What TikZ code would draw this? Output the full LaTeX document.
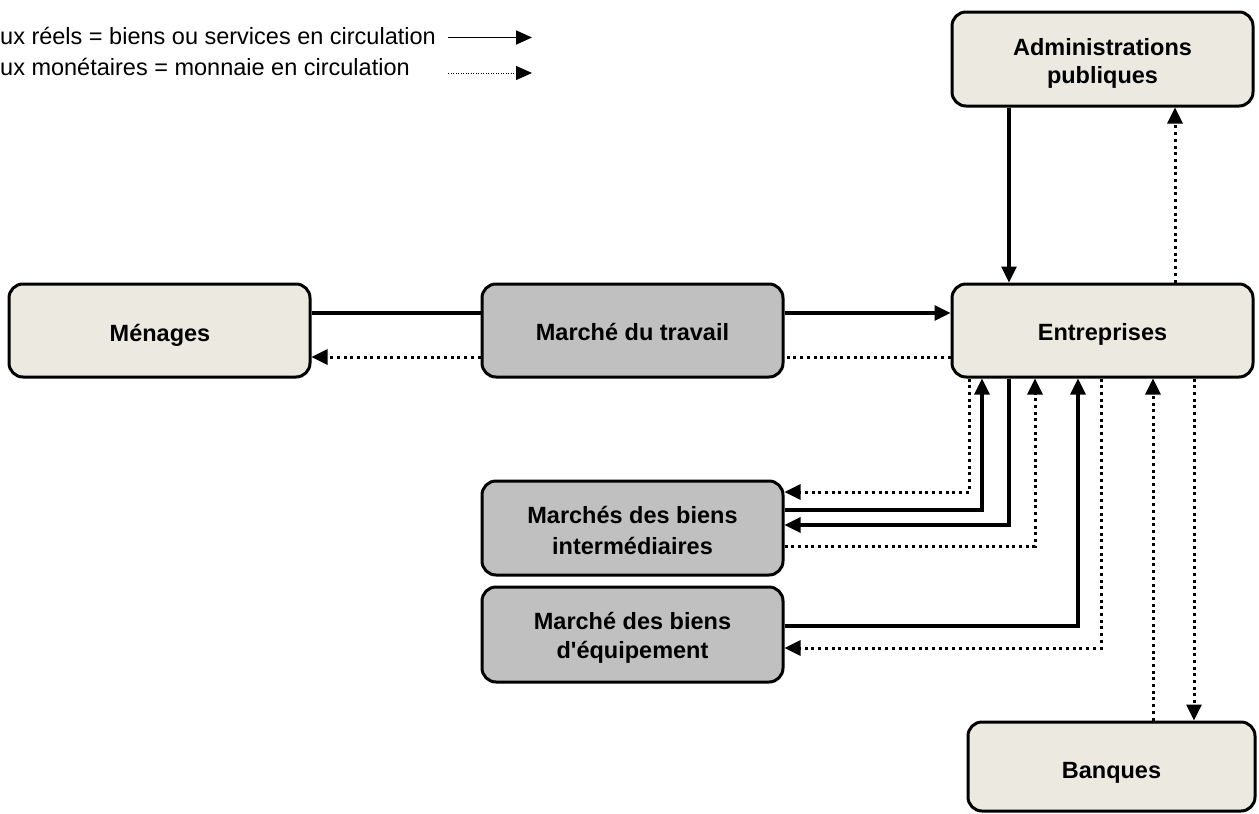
\documentclass[tikz,border=0pt]{standalone}
\usepackage{fontspec}
\setmainfont{Liberation Sans}
\usetikzlibrary{arrows.meta}
\definecolor{beige}{RGB}{236,234,224}
\definecolor{grisbox}{RGB}{192,192,192}
\begin{document}
\begin{tikzpicture}[x=1pt,y=-1pt,
 box/.style={draw=black, line width=3pt, rounded corners=14pt, inner sep=0pt},
 agent/.style={box, fill=beige},
 market/.style={box, fill=grisbox},
 boxtext/.style={inner sep=0pt, anchor=base, font=\fontsize{23.5}{29}\selectfont\bfseries},
 tipstyle/.style={-{Triangle[length=16pt,width=15pt]}},
 realline/.style={line width=3.2pt},
 real/.style={realline, tipstyle},
 moneyline/.style={line width=3pt, dash pattern=on 3pt off 3.7pt},
 money/.style={moneyline, tipstyle},
 legendtext/.style={font=\fontsize{23.5}{29}\selectfont, inner sep=0pt, anchor=base west}]
\useasboundingbox (0,0) rectangle (1259,814);

% boxes
\node[agent, minimum width=301pt, minimum height=94pt] (admin) at (1102.5,59) {};
\node[agent, minimum width=301pt, minimum height=93pt] (men) at (159.5,330.5) {};
\node[market, minimum width=301pt, minimum height=93pt] (trav) at (632.5,330.5) {};
\node[agent, minimum width=301pt, minimum height=93pt] (ent) at (1102.5,330.5) {};
\node[market, minimum width=301pt, minimum height=94pt] (interm) at (632.5,528) {};
\node[market, minimum width=301pt, minimum height=95pt] (equip) at (632.5,634.5) {};
\node[agent, minimum width=287pt, minimum height=89pt] (banq) at (1111.5,766.5) {};

% box texts
\node[boxtext] (adminT1) at (1102.5,55) {Administrations};
\node[boxtext] (adminT2) at (1102.5,83.3) {publiques};
\node[boxtext] (menT) at (160,341.7) {Ménages};
\node[boxtext] (travT) at (632.5,340.7) {Marché du travail};
\node[boxtext] (entT) at (1102.5,340.7) {Entreprises};
\node[boxtext] (intermT1) at (632.5,523) {Marchés des biens};
\node[boxtext] (intermT2) at (632.5,554.7) {intermédiaires};
\node[boxtext] (equipT1) at (632.5,629.7) {Marché des biens};
\node[boxtext] (equipT2) at (632.5,658) {d\textquotesingle équipement};
\node[boxtext] (banqT) at (1111.5,778) {Banques};

% helper coordinates
\coordinate (c969) at (969,0);
\coordinate (c982) at (982,0);
\coordinate (c1009) at (1009,0);
\coordinate (c1035) at (1035,0);
\coordinate (c1078) at (1078,0);
\coordinate (c1101) at (1101,0);
\coordinate (c1153) at (1153,0);
\coordinate (c1175) at (1175,0);
\coordinate (c1194) at (1194,0);
\coordinate (r313) at (0,313);
\coordinate (r357) at (0,357);
\coordinate (r492) at (0,492);
\coordinate (r510) at (0,510);
\coordinate (r525) at (0,525);
\coordinate (r546) at (0,546);
\coordinate (r626) at (0,626);
\coordinate (r648) at (0,648);

% administrations <-> entreprises
\draw[real] (admin.south -| c1009) -- (ent.north -| c1009);
\draw[money] (ent.north -| c1175) -- (admin.south -| c1175);

% menages <-> marche du travail <-> entreprises
\draw[realline] (men.east |- r313) -- (trav.west |- r313);
\draw[real] (trav.east |- r313) -- (ent.west |- r313);
\draw[moneyline] (ent.west |- r357) -- (trav.east |- r357);
\draw[money] (trav.west |- r357) -- (men.east |- r357);

% biens intermediaires
\draw[money] (ent.south -| c969) |- (interm.east |- r492);
\draw[real] (interm.east |- r510) -| (ent.south -| c982);
\draw[real] (ent.south -| c1009) |- (interm.east |- r525);
\draw[money] (interm.east |- r546) -| (ent.south -| c1035);

% biens d'equipement
\draw[real] (equip.east |- r626) -| (ent.south -| c1078);
\draw[money] (ent.south -| c1101) |- (equip.east |- r648);

% banques
\draw[money] (banq.north -| c1153) -- (ent.south -| c1153);
\draw[money] (ent.south -| c1194) -- (banq.north -| c1194);

% legend
\node[legendtext] (leg1) at (0,44.5) {ux réels = biens ou services en circulation};
\node[legendtext] (leg2) at (0,75) {ux monétaires = monnaie en circulation};
\coordinate (l1s) at (448,37.5);
\coordinate (l1e) at (532,37.5);
\coordinate (l2s) at (448,73);
\coordinate (l2e) at (532,73);
\draw[line width=1.8pt, -{Triangle[length=16pt,width=14pt]}] (l1s) -- (l1e);
\draw[line width=1pt, dash pattern=on 1pt off 1.5pt, -{Triangle[length=16pt,width=14pt]}] (l2s) -- (l2e);
\end{tikzpicture}
\end{document}
